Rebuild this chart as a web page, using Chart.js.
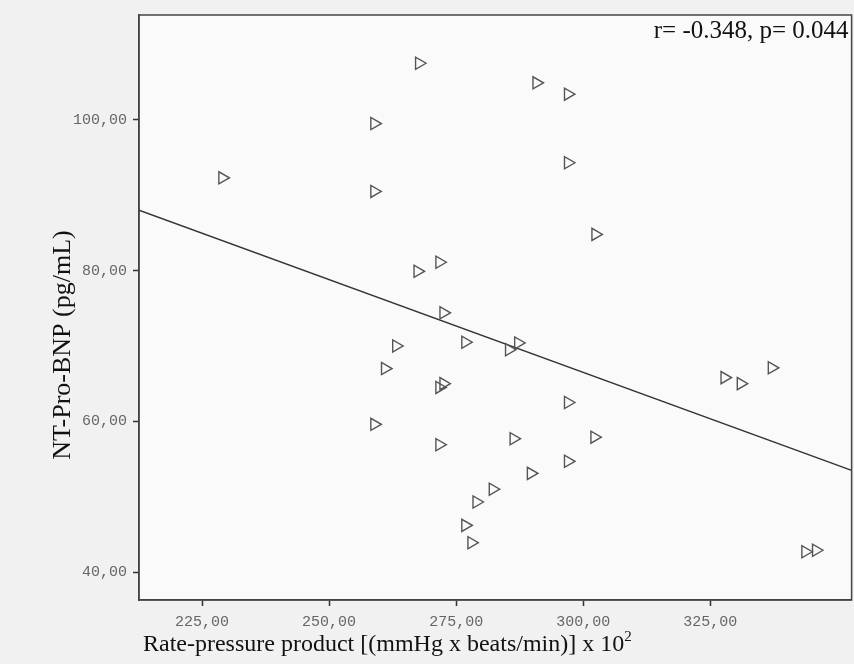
<!DOCTYPE html>
<html>
<head>
    <title>NT-Pro-BNP vs rate-pressure product</title>
    <script src="https://cdn.jsdelivr.net/npm/chart.js"></script>
    <style>
        body { margin: 0; background: #f1f1f1; overflow: hidden; }
        /* a bit wider than the window: Chart.js keeps ~9px for point overflow on the right */
        #wrap { width: 860px; height: 664px; position: relative; }
    </style>
</head>
<body>
<div id="wrap"><canvas id="myChart"></canvas></div>
<script>
    // rate-pressure product (x 10^2) and NT-Pro-BNP
    var rpp = [229.0, 267.7, 258.9, 258.9, 290.8, 297.0, 297.0, 302.4, 271.7, 267.4,
               272.5, 263.2, 276.8, 287.2, 285.4, 261.0, 272.5, 271.7, 297.0, 258.9,
               271.7, 286.3, 302.2, 297.0, 289.7, 282.2, 279.0, 276.8, 278.0, 327.8,
               331.0, 337.1, 343.7, 345.8];
    var bnp = [92.3, 107.5, 99.5, 90.5, 104.9, 103.4, 94.3, 84.8, 81.1, 79.9,
               74.4, 70.0, 70.5, 70.4, 69.5, 67.0, 65.0, 64.5, 62.5, 59.6,
               56.9, 57.7, 57.9, 54.7, 53.1, 51.0, 49.3, 46.2, 43.9, 65.8,
               65.0, 67.1, 42.7, 42.9];
    // fit line end points
    var fitX = [212.6, 352.8];
    var fitY = [88.0, 53.5];
    var xTicks = [225, 250, 275, 300, 325];
    var yTicks = [40, 60, 80, 100];
    var statText = 'r= -0.348, p= 0.044';

    var ctx = document.getElementById('myChart').getContext('2d');

    function fmt(v) { return v.toFixed(2).replace('.', ','); }

    var frame = {
        id: 'frame',
        beforeDraw: function (chart) {
            var c = chart.ctx, a = chart.chartArea;
            c.save();
            c.fillStyle = '#fafafa';
            c.fillRect(a.left, a.top, a.right - a.left, a.bottom - a.top);
            c.restore();
        },
        afterDraw: function (chart) {
            var c = chart.ctx, a = chart.chartArea;
            c.save();
            c.strokeStyle = '#444';
            c.lineWidth = 1.5;
            c.strokeRect(a.left, a.top, a.right - a.left, a.bottom - a.top);

            c.fillStyle = '#111';
            c.font = '25px "Liberation Serif"';
            c.textAlign = 'right';
            c.textBaseline = 'alphabetic';
            c.fillText(statText, a.right - 3, 38);

            // x title with superscript
            c.font = '24px "Liberation Serif"';
            c.textAlign = 'left';
            var t = 'Rate-pressure product [(mmHg x beats/min)] x 10';
            c.fillText(t, 143, 651);
            var w = c.measureText(t).width;
            c.font = '15px "Liberation Serif"';
            c.fillText('2', 143 + w, 641);

            // y title
            c.font = '26px "Liberation Serif"';
            c.translate(70, 345);
            c.rotate(-Math.PI / 2);
            c.textAlign = 'center';
            c.fillText('NT-Pro-BNP (pg/mL)', 0, 0);
            c.restore();
        }
    };

    var myChart = new Chart(ctx, {
        data: {
            datasets: [{
                type: 'scatter',
                data: rpp.map(function (x, i) { return { x: x, y: bnp[i] }; }),
                pointStyle: 'triangle',
                rotation: 90,
                radius: 7,
                hoverRadius: 7,
                borderColor: '#555',
                borderWidth: 1.4,
                backgroundColor: 'rgba(0,0,0,0)'
            }, {
                type: 'line',
                data: fitX.map(function (x, i) { return { x: x, y: fitY[i] }; }),
                borderColor: '#333',
                borderWidth: 1.5,
                pointRadius: 0,
                fill: false
            }]
        },
        options: {
            responsive: true,
            maintainAspectRatio: false,
            animation: false,
            layout: { padding: { left: 0, top: 13, right: 0, bottom: 0 } },
            plugins: { legend: { display: false }, tooltip: { enabled: false } },
            scales: {
                x: {
                    type: 'linear',
                    min: 212.6,
                    max: 352.8,
                    afterBuildTicks: function (s) { s.ticks = xTicks.map(function (v) { return { value: v }; }); },
                    afterFit: function (s) { s.height = 64; },
                    grid: { drawOnChartArea: false, tickLength: 6, tickColor: '#333', tickWidth: 1.5 },
                    border: { color: '#444', width: 1.5 },
                    ticks: {
                        callback: function (v) { return fmt(v); },
                        font: { family: 'Liberation Mono', size: 15 },
                        color: '#666',
                        padding: 7,
                        maxRotation: 0
                    }
                },
                y: {
                    type: 'linear',
                    min: 36.3,
                    max: 113.9,
                    afterBuildTicks: function (s) { s.ticks = yTicks.map(function (v) { return { value: v }; }); },
                    afterFit: function (s) { s.width = 139; },
                    grid: { drawOnChartArea: false, tickLength: 6, tickColor: '#333', tickWidth: 1.5 },
                    border: { color: '#444', width: 1.5 },
                    ticks: {
                        callback: function (v) { return fmt(v); },
                        font: { family: 'Liberation Mono', size: 15 },
                        color: '#666',
                        padding: 6
                    }
                }
            }
        },
        plugins: [frame]
    });
</script>
</body>
</html>
